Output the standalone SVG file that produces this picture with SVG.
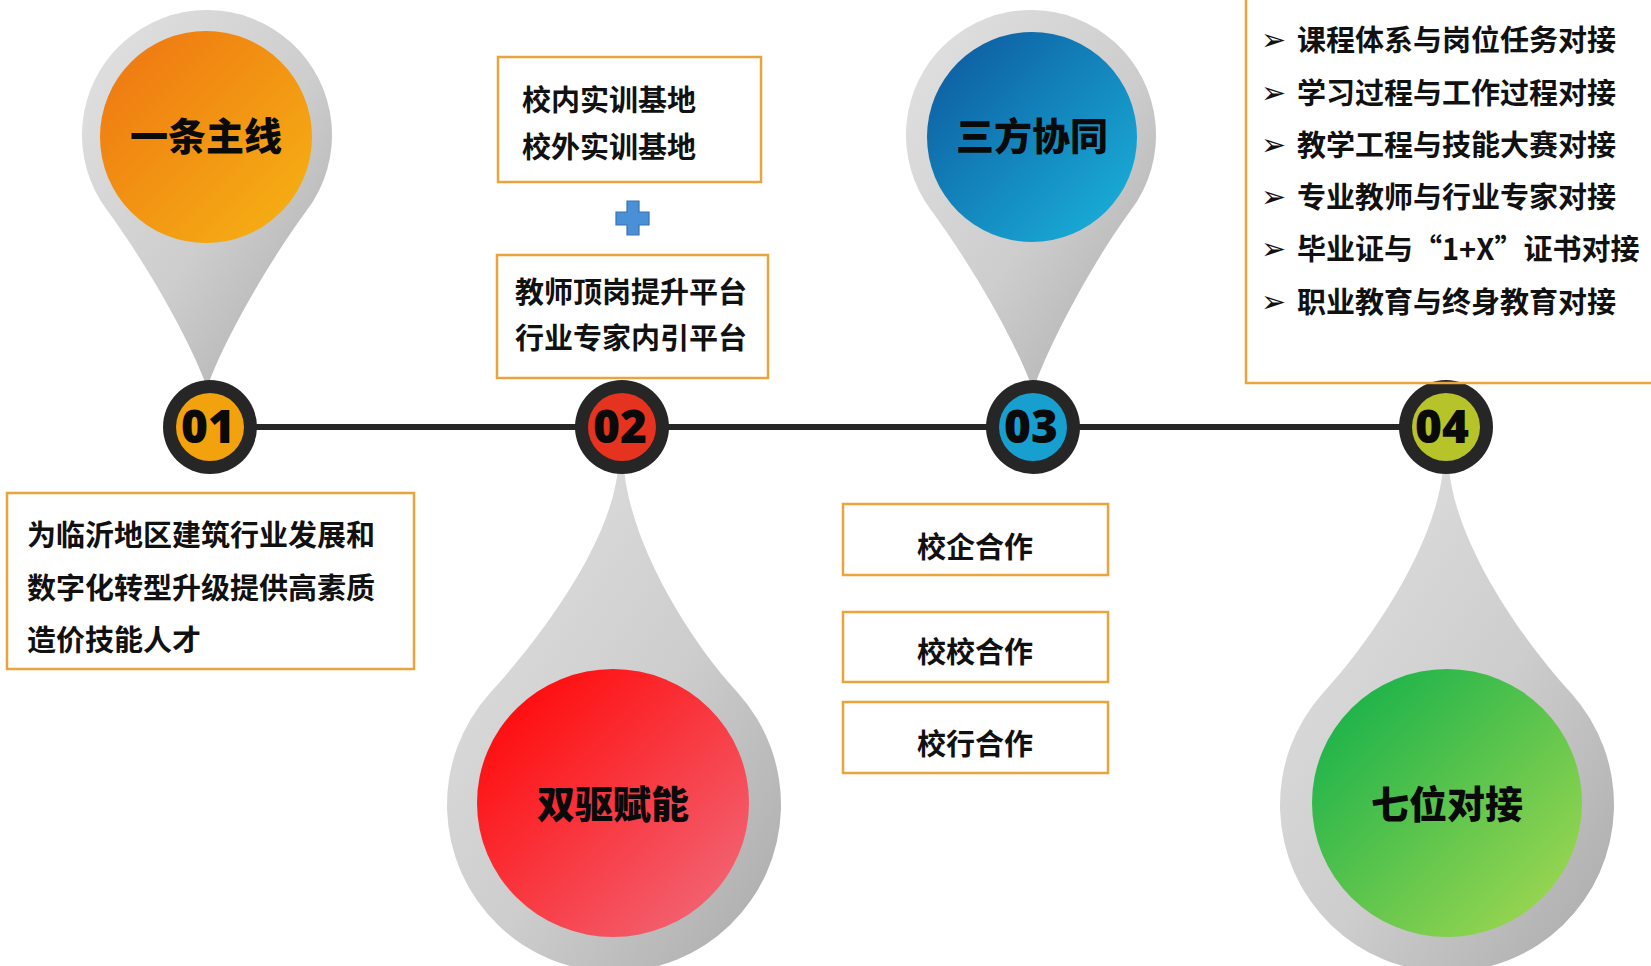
<svg xmlns="http://www.w3.org/2000/svg" width="1651" height="966" viewBox="0 0 1651 966">
  <defs>
    <linearGradient id="gGray" x1="0" y1="0" x2="1" y2="1">
      <stop offset="0" stop-color="#E2E2E2"/>
      <stop offset="0.55" stop-color="#CDCDCD"/>
      <stop offset="1" stop-color="#A9A9A9"/>
    </linearGradient>
    <linearGradient id="gOrange" x1="0.1" y1="0.1" x2="0.9" y2="0.9">
      <stop offset="0" stop-color="#EF7A12"/>
      <stop offset="1" stop-color="#F5AE14"/>
    </linearGradient>
    <linearGradient id="gBlue" x1="0.1" y1="0.1" x2="0.9" y2="0.9">
      <stop offset="0" stop-color="#0E5FA3"/>
      <stop offset="1" stop-color="#19ACD6"/>
    </linearGradient>
    <linearGradient id="gRed" x1="0.1" y1="0.1" x2="0.9" y2="0.9">
      <stop offset="0" stop-color="#FF0A0A"/>
      <stop offset="1" stop-color="#F26474"/>
    </linearGradient>
    <linearGradient id="gGreen" x1="0.1" y1="0.1" x2="0.9" y2="0.9">
      <stop offset="0" stop-color="#1AB24A"/>
      <stop offset="1" stop-color="#9BD650"/>
    </linearGradient>
    <style>
      .box { fill: none; stroke: #E9A43C; stroke-width: 2.5; }
      .txt { font-family: "Noto Sans CJK SC", "Microsoft YaHei", sans-serif; font-weight: 700; font-size: 29px; fill: #111; dominant-baseline: central; }
      .big { font-family: "Noto Sans CJK SC", "Microsoft YaHei", sans-serif; font-weight: 900; font-size: 38px; fill: #0A0A0A; text-anchor: middle; dominant-baseline: central; }
      .num { font-family: "Open Sans", "Noto Sans", sans-serif; font-weight: 800; font-size: 46px; fill: #0A0A0A; text-anchor: middle; }
      .ring { fill: #262626; }
      .pin { fill: url(#gGray); }
      .bul { font-family: "DejaVu Sans", sans-serif; font-size: 30px; fill: #111; dominant-baseline: central; }
      .line { stroke: #262626; stroke-width: 6; fill: none; }
    </style>
  </defs>

  <rect x="0" y="0" width="1651" height="966" fill="#FFFFFF"/>

  <!-- connectors -->
  <g id="connectors">
    <line class="line" x1="240" y1="427" x2="1420" y2="427"/>
  </g>

  <!-- Node 01 -->
  <g id="node-01">
    <path class="pin" d="M205,382 C185,330 141,256 107,210 A125,125 0 1 1 307,210 C273,256 229,330 209,382 Z"/>
    <circle cx="206" cy="137" r="106" fill="url(#gOrange)"/>
    <text class="big" x="206" y="133">一条主线</text>
    <circle class="ring" cx="210" cy="427" r="47"/>
    <circle cx="210" cy="427" r="34" fill="#F1A20C"/>
    <text class="num" x="208" y="443">01</text>
  </g>
  <g id="box-01">
    <rect class="box" x="7" y="493" width="407" height="176"/>
    <text class="txt" x="27" y="533">为临沂地区建筑行业发展和</text>
    <text class="txt" x="27" y="586">数字化转型升级提供高素质</text>
    <text class="txt" x="27" y="638">造价技能人才</text>
  </g>

  <!-- Node 02 -->
  <g id="node-02">
    <path class="pin" d="M618,468 C612,540 544,634 490,693 A167,167 0 1 0 738,693 C684,634 630,540 624,468 Z"/>
    <ellipse cx="613" cy="803" rx="136" ry="134" fill="url(#gRed)"/>
    <text class="big" x="613" y="801">双驱赋能</text>
    <circle class="ring" cx="622" cy="427" r="47"/>
    <circle cx="622" cy="427" r="34" fill="#E6331F"/>
    <text class="num" x="620" y="443">02</text>
  </g>
  <g id="box-02a">
    <rect class="box" x="498" y="57" width="263" height="125"/>
    <text class="txt" x="522" y="98">校内实训基地</text>
    <text class="txt" x="522" y="145">校外实训基地</text>
  </g>
  <g id="plus">
    <path d="M627,201 H639 V212 H649 V225 H639 V235 H627 V225 H616 V212 H627 Z" fill="#4A90D6" stroke="#3A72B2" stroke-width="1.2"/>
  </g>
  <g id="box-02b">
    <rect class="box" x="497" y="255" width="271" height="123"/>
    <text class="txt" x="515" y="290">教师顶岗提升平台</text>
    <text class="txt" x="515" y="336">行业专家内引平台</text>
  </g>

  <!-- Node 03 -->
  <g id="node-03">
    <path class="pin" d="M1030,382 C1010,330 965,256 931,210 A125,125 0 1 1 1131,210 C1097,256 1056,330 1036,382 Z"/>
    <circle cx="1032" cy="137" r="105" fill="url(#gBlue)"/>
    <text class="big" x="1032" y="133">三方协同</text>
    <circle class="ring" cx="1033" cy="427" r="47"/>
    <circle cx="1033" cy="427" r="34" fill="#179FCF"/>
    <text class="num" x="1031" y="443">03</text>
  </g>
  <g id="box-03a">
    <rect class="box" x="843" y="504" width="265" height="71"/>
    <text class="txt" x="975" y="545" text-anchor="middle">校企合作</text>
  </g>
  <g id="box-03b">
    <rect class="box" x="843" y="612" width="265" height="70"/>
    <text class="txt" x="975" y="650" text-anchor="middle">校校合作</text>
  </g>
  <g id="box-03c">
    <rect class="box" x="843" y="702" width="265" height="71"/>
    <text class="txt" x="975" y="742" text-anchor="middle">校行合作</text>
  </g>

  <!-- Node 04 -->
  <g id="node-04">
    <path class="pin" d="M1443,468 C1437,540 1377,634 1323,693 A167,167 0 1 0 1571,693 C1517,634 1455,540 1449,468 Z"/>
    <ellipse cx="1447" cy="803" rx="135" ry="134" fill="url(#gGreen)"/>
    <text class="big" x="1447" y="801">七位对接</text>
    <circle class="ring" cx="1446" cy="427" r="47"/>
    <circle cx="1446" cy="427" r="34" fill="#B6C42A"/>
    <text class="num" x="1442" y="443">04</text>
  </g>
  <g id="box-04">
    <rect class="box" x="1246" y="-10" width="420" height="393"/>
    <text class="txt" x="1297" y="38">课程体系与岗位任务对接</text>
    <text class="txt" x="1297" y="91">学习过程与工作过程对接</text>
    <text class="txt" x="1297" y="143">教学工程与技能大赛对接</text>
    <text class="txt" x="1297" y="195">专业教师与行业专家对接</text>
    <text class="txt" x="1297" y="247">毕业证与“1+X”证书对接</text>
    <text class="txt" x="1297" y="300">职业教育与终身教育对接</text>
    <text class="bul" x="1261" y="39">➢</text>
    <text class="bul" x="1261" y="92">➢</text>
    <text class="bul" x="1261" y="144">➢</text>
    <text class="bul" x="1261" y="196">➢</text>
    <text class="bul" x="1261" y="248">➢</text>
    <text class="bul" x="1261" y="301">➢</text>
  </g>
</svg>
